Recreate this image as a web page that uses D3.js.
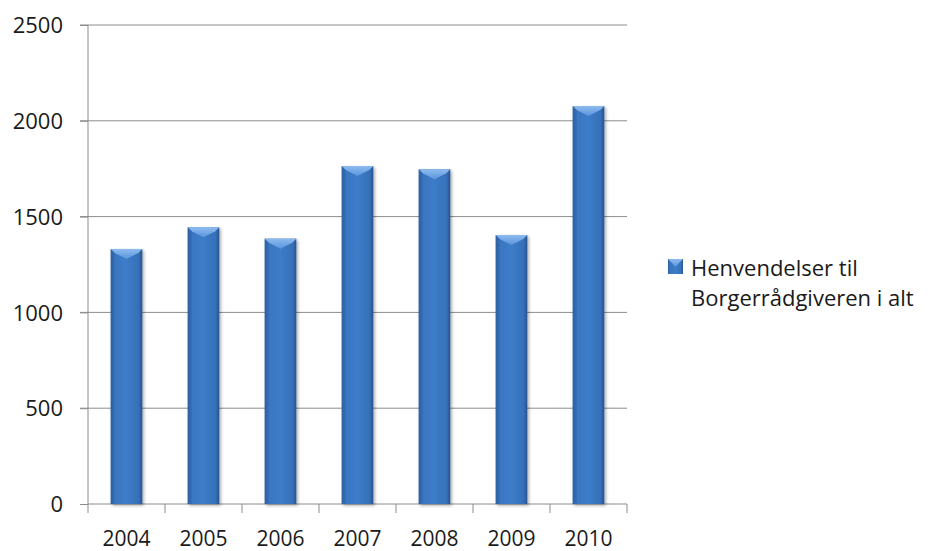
<!DOCTYPE html>
<html>
<head>
<meta charset="utf-8">
<script src="https://cdn.jsdelivr.net/npm/d3@7"></script>
<style>
  body { margin: 0; background: #fff; }
  text { font-family: "Open Sans", "Noto Sans", sans-serif; fill: #1a1a1a; }
</style>
</head>
<body>
<div id="chart"></div>
<script>
// data
const years = ["2004", "2005", "2006", "2007", "2008", "2009", "2010"]
const henvendelser = [1331, 1444, 1385, 1764, 1747, 1404, 2077]
const yTicks = [0, 500, 1000, 1500, 2000, 2500]
const seriesName = ["Henvendelser til", "Borgerrådgiveren i alt"]

const svgWidth = 928, svgHeight = 551
const margin = {top: 25, right: 301, bottom: 47, left: 88}
const chartWidth = svgWidth - margin.left - margin.right
const chartHeight = svgHeight - margin.top - margin.bottom

const svg = d3.select('#chart').append('svg')
    .attr('width', svgWidth)
    .attr('height', svgHeight)

// gradients for the bevelled bars
const defs = svg.append('defs')
const bodyGrad = defs.append('linearGradient').attr('id', 'barBody')
    .attr('x1', 0).attr('x2', 1).attr('y1', 0).attr('y2', 0)
bodyGrad.append('stop').attr('offset', '0%').attr('stop-color', '#2b5d9e')
bodyGrad.append('stop').attr('offset', '12%').attr('stop-color', '#3a76c0')
bodyGrad.append('stop').attr('offset', '50%').attr('stop-color', '#3d7cc9')
bodyGrad.append('stop').attr('offset', '88%').attr('stop-color', '#3670b8')
bodyGrad.append('stop').attr('offset', '100%').attr('stop-color', '#25548f')
const topGrad = defs.append('linearGradient').attr('id', 'barTop')
    .attr('x1', 0).attr('x2', 0).attr('y1', 0).attr('y2', 1)
topGrad.append('stop').attr('offset', '0%').attr('stop-color', '#8ebbef')
topGrad.append('stop').attr('offset', '100%').attr('stop-color', '#5a95dc')
const shadow = defs.append('filter').attr('id', 'shadow')
    .attr('x', '-20%').attr('y', '-5%').attr('width', '150%').attr('height', '115%')
shadow.append('feDropShadow').attr('dx', 1.5).attr('dy', 1.5)
    .attr('stdDeviation', 1.5).attr('flood-color', '#000').attr('flood-opacity', 0.35)

const g = svg.append('g').attr('transform', `translate(${margin.left}, ${margin.top})`)

const xScale = d3.scaleBand().domain(years).range([0, chartWidth]).paddingInner(0.59).paddingOuter(0.295)
const yScale = d3.scaleLinear().domain([0, 2500]).range([chartHeight, 0])
const xBand = d3.scaleBand().domain(years).range([0, chartWidth])

// gridlines
g.append('g').selectAll('line').data(yTicks.filter(d => d > 0)).enter().append('line')
    .attr('x1', -8).attr('x2', chartWidth)
    .attr('y1', d => yScale(d)).attr('y2', d => yScale(d))
    .attr('stroke', '#8c8c8c').attr('stroke-width', 1)

// y axis
const leftAxis = d3.axisLeft(yScale).tickValues(yTicks).tickFormat(d3.format('d')).tickSize(8).tickPadding(17)
const yAxis = g.append('g').call(leftAxis)
yAxis.select('.domain').remove()
yAxis.selectAll('line').attr('stroke', '#8c8c8c')
yAxis.selectAll('text').style('font-size', '22px').attr('dy', '0.35em')
g.append('line').attr('x1', 0).attr('x2', 0).attr('y1', 0).attr('y2', chartHeight)
    .attr('stroke', '#8c8c8c')

// x axis, ticks between categories
const xAxisG = g.append('g').attr('transform', `translate(0, ${chartHeight})`)
xAxisG.append('line').attr('x1', 0).attr('x2', chartWidth).attr('stroke', '#8c8c8c')
xAxisG.selectAll('.sep').data(years.concat(['end'])).enter().append('line')
    .attr('class', 'sep')
    .attr('x1', (d, i) => i * xBand.step()).attr('x2', (d, i) => i * xBand.step())
    .attr('y1', 0).attr('y2', 9).attr('stroke', '#8c8c8c')
xAxisG.selectAll('.lbl').data(years).enter().append('text')
    .attr('class', 'lbl')
    .attr('x', d => xBand(d) + xBand.bandwidth() / 2)
    .attr('y', 42)
    .attr('text-anchor', 'middle')
    .style('font-size', '21px')
    .text(d => d)

// bars
const data = years.map((y, i) => ({x: y, y: henvendelser[i]}))
const bars = g.append('g').selectAll('g').data(data).enter().append('g')
bars.append('rect')
    .attr('x', d => xScale(d.x))
    .attr('y', d => yScale(d.y))
    .attr('width', xScale.bandwidth())
    .attr('height', d => chartHeight - yScale(d.y))
    .attr('fill', 'url(#barBody)')
    .attr('filter', 'url(#shadow)')
// bevel on top
bars.append('path')
    .attr('d', d => {
        const x0 = xScale(d.x), x1 = x0 + xScale.bandwidth(), y0 = yScale(d.y)
        const xm = (x0 + x1) / 2
        return `M${x0},${y0} L${x1},${y0} L${x1 - 4},${y0 + 4} L${xm},${y0 + 10} L${x0 + 4},${y0 + 4} Z`
    })
    .attr('fill', 'url(#barTop)')
bars.append('path')
    .attr('d', d => {
        const x0 = xScale(d.x), y0 = yScale(d.y)
        return `M${x0},${y0} L${x0 + 4},${y0 + 4} L${x0 + 4},${chartHeight} L${x0},${chartHeight} Z`
    })
    .attr('fill', '#2d63a8').attr('opacity', 0.5)

// legend
const legend = svg.append('g').attr('transform', 'translate(668, 259)')
legend.append('rect').attr('width', 15).attr('height', 15).attr('fill', 'url(#barBody)')
legend.append('path').attr('d', 'M0,0 L15,0 L11,4 L7.5,8 L4,4 Z').attr('fill', 'url(#barTop)')
legend.selectAll('text').data(seriesName).enter().append('text')
    .attr('x', 23).attr('y', (d, i) => 17 + i * 30)
    .style('font-size', '22px')
    .text(d => d)
</script>
</body>
</html>
